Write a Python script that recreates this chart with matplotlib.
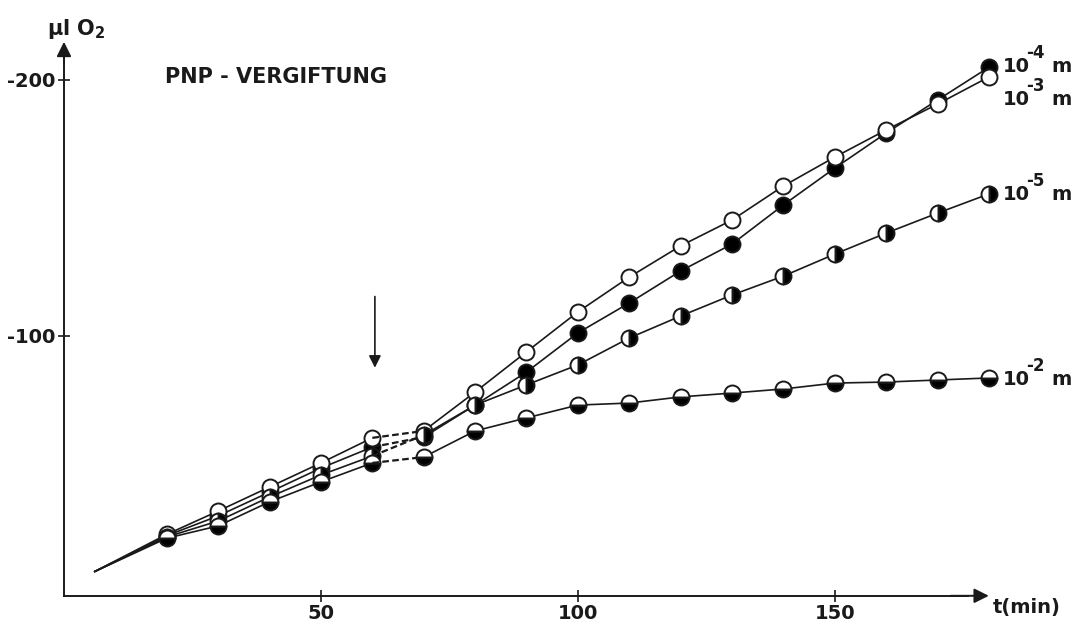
import matplotlib.pyplot as plt
import numpy as np

plt.rcParams['font.family'] = ['DejaVu Sans']
plt.rcParams['mathtext.default'] = 'regular'
plt.rcParams['font.weight'] = 'bold'

# time in minutes (first point is the common start, drawn without a marker)
t = [6, 20, 30, 40, 50, 60, 70, 80, 90, 100, 110, 120, 130, 140, 150, 160, 170, 180]

# µl O2 (negative = consumption)
o2_1e3 = [-8, -22.5, -31.6, -41.0, -50.4, -60.2, -62.9, -78.1, -93.8, -109.4, -123.0,
          -135.2, -145.3, -158.6, -169.9, -180.5, -190.6, -201.2]
o2_1e4 = [-8, -22.0, -29.7, -39.0, -48.4, -56.6, -60.5, -73.0, -85.9, -101.2, -112.9,
          -125.4, -135.9, -151.2, -165.6, -179.3, -192.2, -205.0]
o2_1e5 = [-8, -21.5, -27.7, -37.1, -45.7, -53.1, -61.3, -73.0, -80.9, -88.7, -99.2,
          -107.8, -116.0, -123.4, -132.0, -140.2, -148.0, -155.5]
o2_1e2 = [-8, -21.0, -25.8, -35.2, -43.0, -50.4, -52.7, -62.9, -68.0, -73.0, -73.8,
          -76.2, -77.7, -79.3, -81.6, -82.0, -82.8, -83.6]

exponents = ['-4', '-3', '-5', '-2']
label_y = [-203.1, -190.2, -153.1, -80.9]

markers = [
    dict(fillstyle='full', markerfacecolor='black'),
    dict(fillstyle='full', markerfacecolor='white'),
    dict(fillstyle='right', markerfacecolor='black', markerfacecoloralt='white'),
    dict(fillstyle='bottom', markerfacecolor='black', markerfacecoloralt='white'),
]
data = [o2_1e4, o2_1e3, o2_1e5, o2_1e2]
ink = '#1a1a1a'

fig = plt.figure(figsize=(10.81, 6.26), dpi=100)
ax = fig.add_axes([0, 0, 1, 1])
ax.set_xlim(-12.45, 197.9)
ax.set_ylim(13.3, -231.25)

t = np.array(t)
gap = 5  # index of t=60, dashed link to t=70
for vals, mk, ex, ylab in zip(data, markers, exponents, label_y):
    v = np.array(vals)
    style = dict(color=ink, lw=1.2, marker='o', markersize=11.5,
                 markeredgecolor=ink, markeredgewidth=1.4, **mk)
    ax.plot(t[:gap + 1], v[:gap + 1], markevery=list(range(1, gap + 1)), **style)
    ax.plot(t[gap:gap + 2], v[gap:gap + 2], color=ink, lw=1.6, ls=(0, (3, 1.5)))
    ax.plot(t[gap + 1:], v[gap + 1:], **style)
    # "10^-x m" label with large exponent
    ax.text(182.7, ylab, '10', fontsize=14, va='baseline', ha='left', color=ink)
    ax.annotate(ex, (182.7, ylab), xytext=(17, 10), textcoords='offset points',
                fontsize=12, va='baseline', ha='left', color=ink)
    ax.annotate('m', (182.7, ylab), xytext=(35, 0), textcoords='offset points',
                fontsize=14, va='baseline', ha='left', color=ink)

# axes drawn as arrows through zero
for s in ['top', 'right']:
    ax.spines[s].set_visible(False)
ax.spines['left'].set_position(('data', 0))
ax.spines['bottom'].set_position(('data', 1.5))
ax.spines['left'].set_bounds(1.5, -210)
ax.spines['bottom'].set_bounds(0, 176)
for s in ['left', 'bottom']:
    ax.spines[s].set_linewidth(1.4)
    ax.spines[s].set_color(ink)
ax.annotate('', xy=(0, -216), xytext=(0, -205),
            arrowprops=dict(arrowstyle='-|>', color=ink, lw=1.4, mutation_scale=22))
ax.annotate('', xy=(180.5, 1.5), xytext=(172, 1.5),
            arrowprops=dict(arrowstyle='-|>', color=ink, lw=1.4, mutation_scale=22))

ax.set_xticks([50, 100, 150])
ax.set_yticks([-100, -200])
ax.set_yticklabels(['-100', '-200'])
ax.tick_params(direction='inout', length=8, width=1.2, colors=ink,
               labelsize=14, pad=2)

ax.text(-3.3, -217.6, 'µl O$_2$', fontsize=15, va='baseline', color=ink)
ax.text(180.7, 8.2, 't(min)', fontsize=14, va='baseline', color=ink)
ax.text(19.6, -198.8, 'PNP - VERGIFTUNG', fontsize=15, va='baseline', color=ink)

# poison addition marker
ax.annotate('', xy=(60.5, -86.5), xytext=(60.5, -116.5),
            arrowprops=dict(arrowstyle='-|>', color=ink, lw=1.2, mutation_scale=18))

fig.savefig('out.png', dpi=100)
